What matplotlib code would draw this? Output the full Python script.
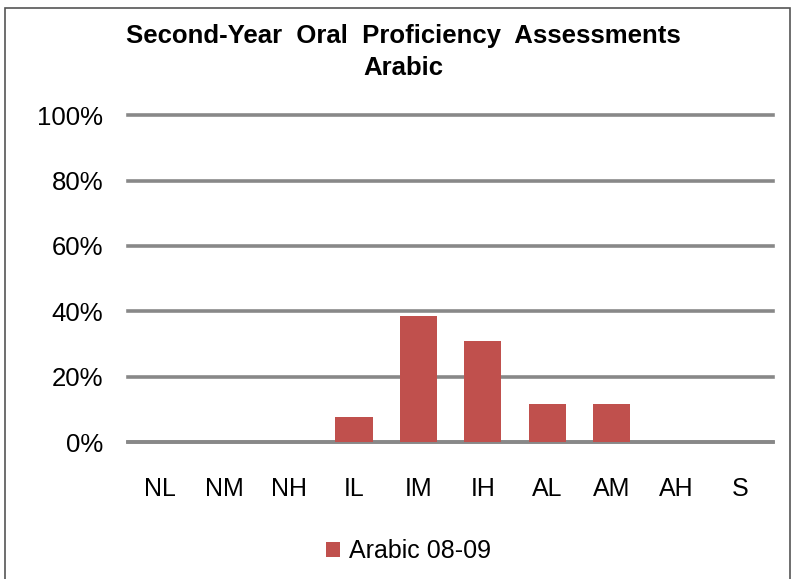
import matplotlib.pyplot as plt
from matplotlib.patches import Rectangle

levels = ['NL', 'NM', 'NH', 'IL', 'IM', 'IH', 'AL', 'AM', 'AH', 'S']
arabic_0809 = [0, 0, 0, 7.7, 38.5, 30.8, 11.5, 11.5, 0, 0]

plt.rcParams['font.family'] = ['Liberation Sans', 'DejaVu Sans']

fig = plt.figure(figsize=(7.96, 5.79), dpi=100)
fig.patches.append(Rectangle((0.006, -0.02), 0.986, 1.006, transform=fig.transFigure,
                             fill=False, edgecolor='#555555', linewidth=1.2))
ax = fig.add_axes([0.161, 0.2366, 0.81, 0.5644])

x = range(len(levels))
ax.bar(x, arabic_0809, width=0.58, color='#C0504D', label='Arabic 08-09', zorder=3)

ax.set_ylim(0, 100)
ax.set_xlim(-0.5, len(levels) - 0.5)
ax.set_yticks([0, 20, 40, 60, 80, 100])
ax.set_yticklabels(['0%', '20%', '40%', '60%', '80%', '100%'], fontsize=18.5)
ax.set_xticks(list(x))
ax.set_xticklabels(levels, fontsize=18)
ax.tick_params(length=0)
ax.tick_params(axis='x', pad=25)
ax.tick_params(axis='y', pad=18)
ax.grid(axis='y', color='#888888', linewidth=2.6, zorder=0)
for gl in ax.get_ygridlines():
    gl.set_clip_on(False)
ax.set_axisbelow(True)
for side in ['left', 'right', 'top']:
    ax.spines[side].set_visible(False)
ax.spines['bottom'].set_color('#888888')
ax.spines['bottom'].set_linewidth(2.6)

fig.text(0.507, 0.938, 'Second-Year  Oral  Proficiency  Assessments', ha='center', va='center',
         fontsize=18.5, fontweight='bold')
fig.text(0.507, 0.882, 'Arabic', ha='center', va='center', fontsize=18.5, fontweight='bold')

fig.legend(loc='center', bbox_to_anchor=(0.513, 0.048), frameon=False, fontsize=18,
           handlelength=0.55, handleheight=0.55, handletextpad=0.35)

fig.savefig('out.png', dpi=100)
